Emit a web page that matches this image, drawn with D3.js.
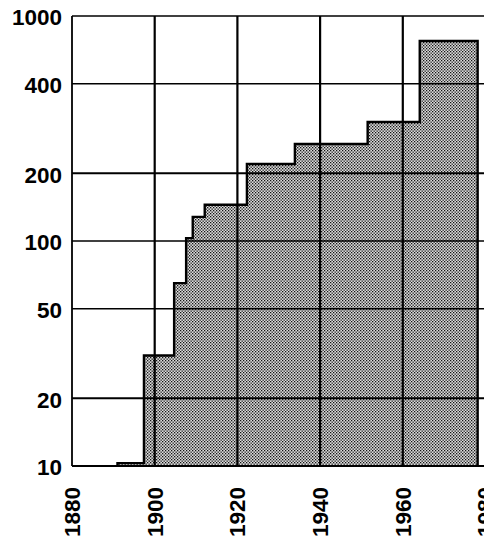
<!DOCTYPE html>
<html>
<head>
<meta charset="utf-8">
<script src="https://cdn.jsdelivr.net/npm/d3@7"></script>
<style>
  body { margin: 0; background: #fff; }
  svg { display: block; }
  .tick-label { font-family: "Liberation Sans", Arial, sans-serif; font-weight: bold; font-size: 22.5px; fill: #000; }
</style>
</head>
<body>
<svg id="chart" width="484" height="539"></svg>
<script>
// step data: year the step starts and the value it holds
const stepYears = [1891, 1897.4, 1904.7, 1907.6, 1909.2, 1912.1, 1922.3, 1933.9, 1951.5, 1964.1];
const stepValues = [10.3, 31, 65, 103, 128, 145, 220, 270, 338, 774];
const lastYear = 1978.1;

// axis ticks
const xTicks = [1880, 1900, 1920, 1940, 1960, 1980];
const yTicks = [10, 20, 50, 100, 200, 500, 1000];
const yTickLabels = ["10", "20", "50", "100", "200", "400", "1000"];

const margin = { top: 16, left: 72, bottom: 466 };
const xRight = 485.5;

const svg = d3.select("#chart");

const xScale = d3.scaleLinear().domain([1880, 1980]).range([margin.left, xRight]);
const yScale = d3.scaleLog().domain([10, 1000]).range([margin.bottom, margin.top]);

// stipple pattern for the shaded area
const defs = svg.append("defs");
const pat = defs.append("pattern")
  .attr("id", "stipple")
  .attr("patternUnits", "userSpaceOnUse")
  .attr("width", 3)
  .attr("height", 3);
pat.append("rect").attr("width", 3).attr("height", 3).attr("fill", "#dcdcdc");
pat.append("rect").attr("x", 0).attr("y", 0).attr("width", 1.3).attr("height", 1.3).attr("fill", "#111");
pat.append("rect").attr("x", 1.5).attr("y", 1.5).attr("width", 1.3).attr("height", 1.3).attr("fill", "#111");

// build step points
const pts = [];
stepYears.forEach((yr, i) => {
  const next = i < stepYears.length - 1 ? stepYears[i + 1] : lastYear;
  pts.push({ year: yr, value: stepValues[i] });
  pts.push({ year: next, value: stepValues[i] });
});

const area = d3.area()
  .x((d) => xScale(d.year))
  .y0(yScale(10))
  .y1((d) => yScale(d.value));

svg.append("path")
  .datum(pts)
  .attr("d", area)
  .attr("fill", "url(#stipple)");

// grid lines (drawn over the shading)
const grid = svg.append("g").attr("class", "grid");

grid.selectAll(".hgrid")
  .data(yTicks)
  .enter()
  .append("line")
  .attr("x1", margin.left)
  .attr("x2", 484)
  .attr("y1", (d) => yScale(d))
  .attr("y2", (d) => yScale(d))
  .attr("stroke", "#000")
  .attr("stroke-width", (d) => (d === 20 || d === 200 || d === 10 ? 2.2 : 1.6));

grid.selectAll(".vgrid")
  .data(xTicks)
  .enter()
  .append("line")
  .attr("x1", (d) => xScale(d))
  .attr("x2", (d) => xScale(d))
  .attr("y1", margin.top)
  .attr("y2", margin.bottom)
  .attr("stroke", "#000")
  .attr("stroke-width", (d) => (d === 1880 ? 1.8 : 2.2));

// step outline
const line = d3.line()
  .x((d) => xScale(d.year))
  .y((d) => yScale(d.value));

const outline = [{ year: stepYears[0], value: 10 }].concat(pts, [{ year: lastYear, value: 10 }]);

svg.append("path")
  .datum(outline)
  .attr("d", line)
  .attr("fill", "none")
  .attr("stroke", "#000")
  .attr("stroke-width", 2.4)
  .attr("stroke-linejoin", "miter");

// y labels
svg.append("g")
  .selectAll("text")
  .data(yTicks)
  .enter()
  .append("text")
  .attr("class", "tick-label")
  .attr("x", margin.left - 10)
  .attr("y", (d) => yScale(d) + 1.5)
  .attr("dy", "0.35em")
  .attr("text-anchor", "end")
  .text((d, i) => yTickLabels[i]);

// x labels, rotated
svg.append("g")
  .selectAll("text")
  .data(xTicks)
  .enter()
  .append("text")
  .attr("class", "tick-label")
  .attr("transform", (d) => `translate(${xScale(d)}, 487) rotate(-90)`)
  .attr("dy", "0.35em")
  .attr("text-anchor", "end")
  .text((d) => d);
</script>
</body>
</html>
